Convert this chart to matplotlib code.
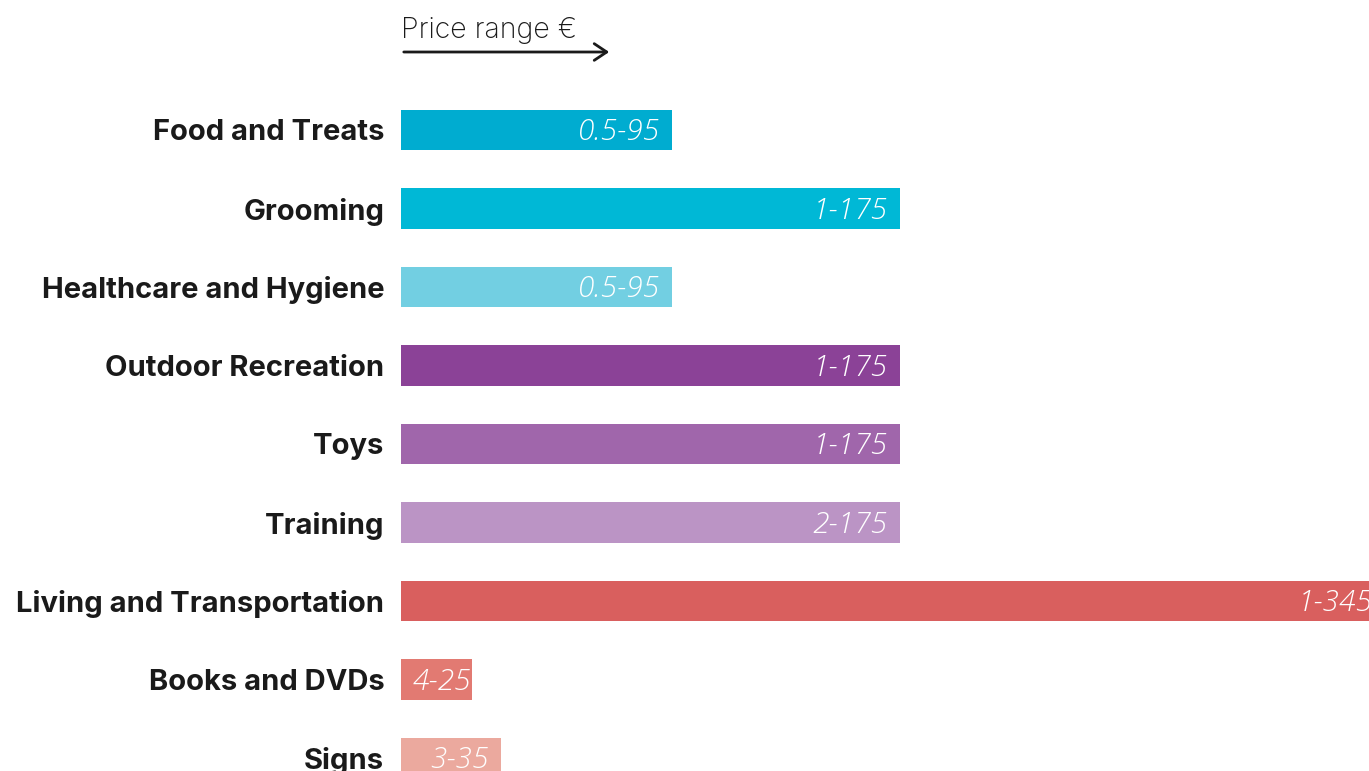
import matplotlib.pyplot as plt
from matplotlib.patches import FancyArrowPatch

categories = ['Food and Treats', 'Grooming', 'Healthcare and Hygiene',
              'Outdoor Recreation', 'Toys', 'Training',
              'Living and Transportation', 'Books and DVDs', 'Signs']
price_min = [0.5, 1, 0.5, 1, 1, 2, 1, 4, 3]
price_max = [95, 175, 95, 175, 175, 175, 345, 25, 35]
colors = ['#00acd0', '#00b8d6', '#72cfe2', '#8b4297', '#a066ab',
          '#bb94c5', '#d95f5e', '#e27a72', '#eba99e']

W, H = 1369, 771
fig = plt.figure(figsize=(W / 100, H / 100), dpi=100)
ax = fig.add_axes([401 / W, 0, 1 - 401 / W, 1])

pos = list(range(len(categories)))
ax.barh(pos, price_max, height=0.51, color=colors)

# 175 ends at x=900px
ax.set_xlim(0, 175 * (W - 401) / (900 - 401))
ax.set_ylim((H - 130) / 78.5, -130 / 78.5)

for i, (lo, hi) in enumerate(zip(price_min, price_max)):
    lab = f'{lo:g}-{hi:g}'
    off = -1 if hi < 30 else -12
    ax.annotate(lab, (hi, i), xytext=(off, 1), textcoords='offset pixels',
                ha='right', va='center_baseline', color='white', fontsize=21.5,
                family='Open Sans', style='italic', weight='light',
                annotation_clip=False)

ax.set_yticks(pos)
ax.set_yticklabels(categories, family='Inter', weight='bold', fontsize=21,
                   color='#1a1a1a')
ax.tick_params(axis='y', length=0, pad=12)
ax.tick_params(axis='x', bottom=False, labelbottom=False)
for s in ax.spines.values():
    s.set_visible(False)

fig.text(401 / W, 1 - 30 / H, 'Price range €', family='Inter', weight='light',
         fontsize=20.5, color='#1a1a1a', va='center', ha='left')
fig.patches.append(FancyArrowPatch(
    (401 / W, 1 - 52 / H), (612 / W, 1 - 52 / H), transform=fig.transFigure,
    arrowstyle='->,head_length=9,head_width=6', mutation_scale=1,
    color='#1a1a1a', lw=2))

fig.savefig('out.png', dpi=100)
